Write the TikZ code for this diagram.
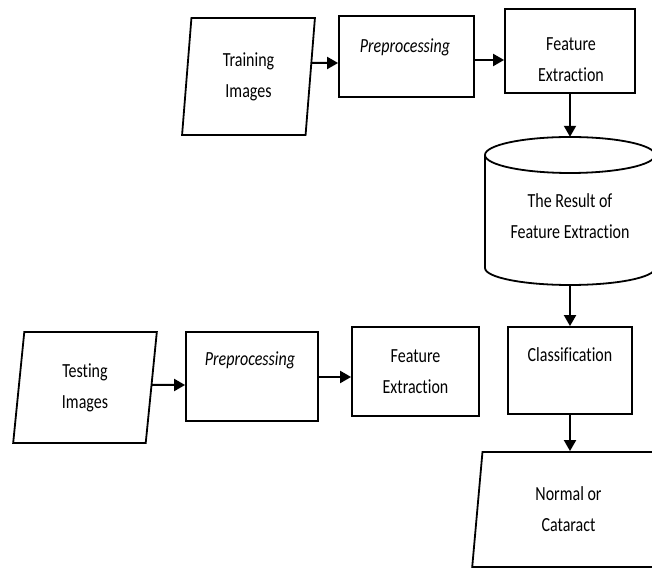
\documentclass[tikz,border=0pt]{standalone}
\usepackage{fontspec}
\setmainfont[FakeStretch=0.8, Ligatures={NoCommon}]{Carlito}
\usetikzlibrary{arrows.meta,shapes.geometric}
\newcommand{\diagfont}{\fontsize{20}{31}\selectfont}
\begin{document}
\begin{tikzpicture}[x=1pt,y=1pt,
  boxline/.style={draw=black, line width=1.8pt},
  procbox/.style={boxline, rectangle, inner sep=0pt},
  iobox/.style={boxline, trapezium, trapezium left angle=85, trapezium right angle=95,
    trapezium stretches=true, inner sep=0pt, align=center, font=\diagfont},
  lbl/.style={align=center, inner sep=0pt, font=\diagfont},
  arr/.style={line width=2pt, -{Triangle[length=11pt,width=12pt]}},
]
\useasboundingbox (0,0) rectangle (652,569);
\fill[white] (0,0) rectangle (652,569);
\clip (0,0) rectangle (652,569);

% training branch
\node[iobox, minimum width=133pt, minimum height=117pt] (train) at (248.5,492.5) {Training\\Images};
\node[procbox, minimum width=135pt, minimum height=81pt] (pre1) at (406.5,512.5) {};
\node[lbl] (pre1txt) at (405,522) {\itshape Preprocessing};
\node[procbox, minimum width=130pt, minimum height=84pt] (fe1) at (570,518) {};
\node[lbl] (fe1txt) at (571,509) {Feature\\Extraction};

% feature store (cylinder)
\node[inner sep=0pt, minimum width=170pt, minimum height=148pt] (cyl) at (570,358) {};
\draw[boxline] (485,414) -- (485,301)
  arc[start angle=180, end angle=360, x radius=85, y radius=17] -- (655,414);
\draw[boxline] (570,414) ellipse[x radius=85, y radius=18];
\node[lbl] (cyltxt) at (570,353) {The Result of\\Feature Extraction};

% testing branch
\node[iobox, minimum width=144pt, minimum height=111pt] (test) at (85,181.5) {Testing\\Images};
\node[procbox, minimum width=132pt, minimum height=89pt] (pre2) at (252,192.5) {};
\node[lbl] (pre2txt) at (250,209) {\itshape Preprocessing};
\node[procbox, lbl, minimum width=127pt, minimum height=89pt] (fe2) at (415.5,197.5) {Feature\\Extraction};
\node[procbox, minimum width=124pt, minimum height=87pt] (cls) at (570,198.5) {};
\node[lbl] (clstxt) at (570,214) {Classification};
\node[iobox, minimum width=193pt, minimum height=115pt] (out) at (568.5,59.5) {Normal or\\Cataract};

% connectors
\draw[arr] ([yshift=13.5pt]train.east) -- ([yshift=-6.5pt]pre1.west);
\draw[arr] ([yshift=-3.5pt]pre1.east) -- ([yshift=-9pt]fe1.west);
\draw[arr] (fe1.south) -- (cyl.north);
\draw[arr] (cyl.south) -- (cls.north);
\draw[arr] (cls.south) -- (cls.south |- out.north);
\draw[arr] ([yshift=2.5pt]test.east) -- ([yshift=-8.5pt]pre2.west);
\draw[arr] ([yshift=-0.5pt]pre2.east) -- ([yshift=-5.5pt]fe2.west);
\end{tikzpicture}
\end{document}
